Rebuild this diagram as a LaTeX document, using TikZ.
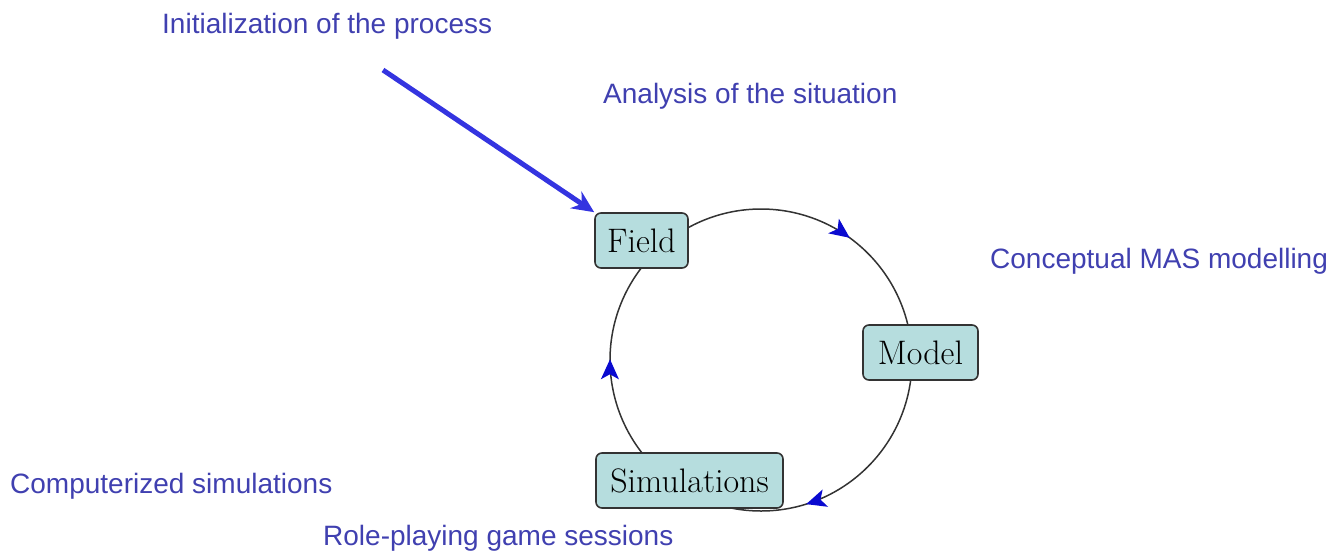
\documentclass[tikz,border=0pt]{standalone}
\usepackage{fontspec}
\newfontfamily\labelfont{Liberation Sans}
\usetikzlibrary{arrows.meta,decorations.markings}
\definecolor{labelblue}{HTML}{4040B0}
\definecolor{initblue}{HTML}{3434E0}
\definecolor{boxfill}{HTML}{B6DDDE}
\definecolor{boxedge}{HTML}{333333}
\definecolor{tipblue}{HTML}{0A0AD0}
\tikzset{
  stage/.style={draw=boxedge, line width=1.6pt, fill=boxfill, rounded corners=6pt,
    inner sep=0pt, minimum height=55pt, font=\fontsize{34}{38}\selectfont},
  phase/.style={anchor=base west, inner sep=0pt, text=labelblue,
    font=\labelfont\fontsize{28}{31}\selectfont},
  cycle/.style={draw=black!80, line width=1.5pt},
  tipat/.style={postaction={decorate}, decoration={markings,
    mark=at position #1 with {\arrow[tipblue]{Stealth[length=20pt,width=18pt,inset=5pt]}}}},
}
\begin{document}
\begin{tikzpicture}[x=1pt,y=1pt]
  \useasboundingbox (0,0) rectangle (1343,-555);
  \coordinate (c) at (761,-360);
  % cycle between the three stages
  \draw[cycle, tipat=0.6] (c) ++(135:151) arc[start angle=135, end angle=0, radius=151];
  \draw[cycle, tipat=0.6] (c) ++(0:151) arc[start angle=0, end angle=-121, radius=151];
  \draw[cycle, tipat=0.57] (c) ++(-121:151) arc[start angle=-121, end angle=-225, radius=151];
  % stages
  \node[stage, minimum width=93pt] (field) at (641.5,-240.5) {Field};
  \node[stage, minimum width=115pt] (model) at (920.5,-352.5) {Model};
  \node[stage, minimum width=187pt] (sim) at (689.5,-480.5) {Simulations};
  % entry arrow
  \coordinate (start) at (383,-70);
  \draw[initblue, line width=5pt, -{Stealth[length=22pt,width=20pt]}] (start) -- (field.north west);
  % phase labels
  \node[phase] (init) at (162,-33) {Initialization of the process};
  \node[phase] (analysis) at (603,-103) {Analysis of the situation};
  \node[phase] (concept) at (990,-268) {Conceptual MAS modelling};
  \node[phase] (comput) at (10,-493) {Computerized simulations};
  \node[phase] (role) at (323,-545) {Role-playing game sessions};
\end{tikzpicture}
\end{document}
